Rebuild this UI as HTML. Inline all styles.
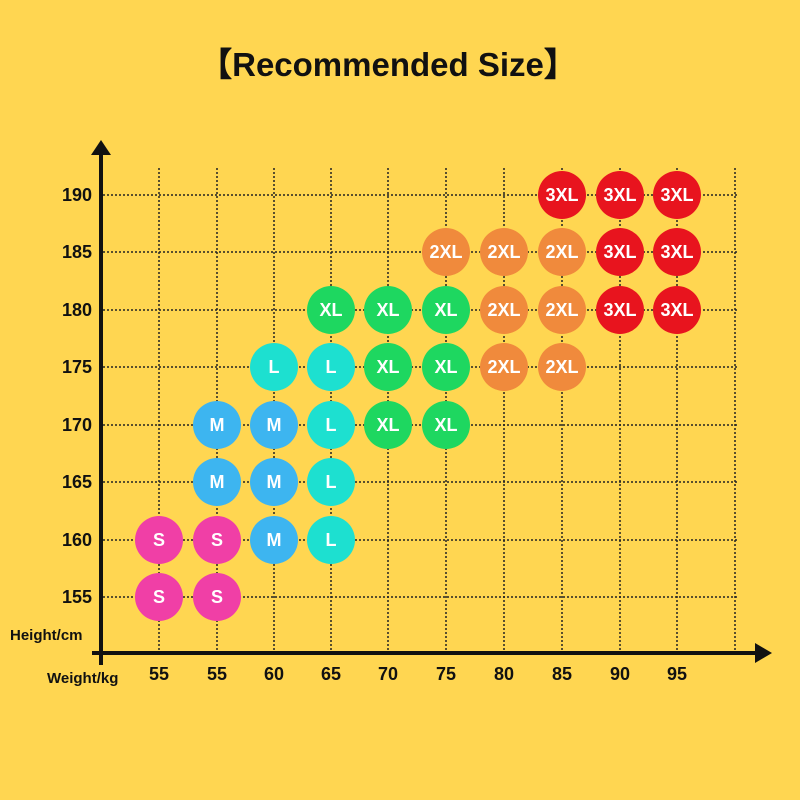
<!DOCTYPE html>
<html><head><style>
body{margin:0;background:#FFD651;}
svg{display:block}
text{font-family:"Liberation Sans",sans-serif;}
</style></head><body>
<svg width="800" height="800" viewBox="0 0 800 800">
<rect width="800" height="800" fill="#FFD651"/>
<text x="388" y="76" text-anchor="middle" font-size="33" font-weight="bold" fill="#111">【Recommended Size】</text>
<g stroke="#222" stroke-width="1.5" stroke-dasharray="2,2">
<line x1="159" y1="168" x2="159" y2="653"/><line x1="217" y1="168" x2="217" y2="653"/>
<line x1="274" y1="168" x2="274" y2="653"/><line x1="331" y1="168" x2="331" y2="653"/>
<line x1="388" y1="168" x2="388" y2="653"/><line x1="446" y1="168" x2="446" y2="653"/>
<line x1="504" y1="168" x2="504" y2="653"/><line x1="562" y1="168" x2="562" y2="653"/>
<line x1="620" y1="168" x2="620" y2="653"/><line x1="677" y1="168" x2="677" y2="653"/>
<line x1="735" y1="168" x2="735" y2="653"/>
<line x1="103" y1="195" x2="738" y2="195"/><line x1="103" y1="252" x2="738" y2="252"/>
<line x1="103" y1="310" x2="738" y2="310"/><line x1="103" y1="367" x2="738" y2="367"/>
<line x1="103" y1="425" x2="738" y2="425"/><line x1="103" y1="482" x2="738" y2="482"/>
<line x1="103" y1="540" x2="738" y2="540"/><line x1="103" y1="597" x2="738" y2="597"/>
</g>
<g stroke="#111" stroke-width="4">
<line x1="101" y1="152" x2="101" y2="665"/>
<line x1="92" y1="653" x2="760" y2="653"/>
</g>
<polygon points="101,140 91,155 111,155" fill="#111"/>
<polygon points="772,653 755,643 755,663" fill="#111"/>
<g font-size="18" font-weight="bold" fill="#111" text-anchor="end">
<text x="92" y="201">190</text><text x="92" y="258">185</text><text x="92" y="316">180</text>
<text x="92" y="373">175</text><text x="92" y="431">170</text><text x="92" y="488">165</text>
<text x="92" y="546">160</text><text x="92" y="603">155</text>
</g>
<text x="10" y="640" font-size="15" font-weight="bold" fill="#111">Height/cm</text>
<text x="47" y="683" font-size="15" font-weight="bold" fill="#111">Weight/kg</text>
<g font-size="18" font-weight="bold" fill="#111" text-anchor="middle">
<text x="159" y="680">55</text><text x="217" y="680">55</text><text x="274" y="680">60</text>
<text x="331" y="680">65</text><text x="388" y="680">70</text><text x="446" y="680">75</text>
<text x="504" y="680">80</text><text x="562" y="680">85</text><text x="620" y="680">90</text>
<text x="677" y="680">95</text>
</g>
<g font-size="18" font-weight="bold" fill="#fff" text-anchor="middle">
<circle cx="159" cy="540" r="24" fill="#F03FA6"/><text x="159" y="546">S</text>
<circle cx="217" cy="540" r="24" fill="#F03FA6"/><text x="217" y="546">S</text>
<circle cx="159" cy="597" r="24" fill="#F03FA6"/><text x="159" y="603">S</text>
<circle cx="217" cy="597" r="24" fill="#F03FA6"/><text x="217" y="603">S</text>
<circle cx="217" cy="425" r="24" fill="#3DB5F0"/><text x="217" y="431">M</text>
<circle cx="274" cy="425" r="24" fill="#3DB5F0"/><text x="274" y="431">M</text>
<circle cx="217" cy="482" r="24" fill="#3DB5F0"/><text x="217" y="488">M</text>
<circle cx="274" cy="482" r="24" fill="#3DB5F0"/><text x="274" y="488">M</text>
<circle cx="274" cy="540" r="24" fill="#3DB5F0"/><text x="274" y="546">M</text>
<circle cx="274" cy="367" r="24" fill="#1DE0D0"/><text x="274" y="373">L</text>
<circle cx="331" cy="367" r="24" fill="#1DE0D0"/><text x="331" y="373">L</text>
<circle cx="331" cy="425" r="24" fill="#1DE0D0"/><text x="331" y="431">L</text>
<circle cx="331" cy="482" r="24" fill="#1DE0D0"/><text x="331" y="488">L</text>
<circle cx="331" cy="540" r="24" fill="#1DE0D0"/><text x="331" y="546">L</text>
<circle cx="331" cy="310" r="24" fill="#1ED760"/><text x="331" y="316">XL</text>
<circle cx="388" cy="310" r="24" fill="#1ED760"/><text x="388" y="316">XL</text>
<circle cx="446" cy="310" r="24" fill="#1ED760"/><text x="446" y="316">XL</text>
<circle cx="388" cy="367" r="24" fill="#1ED760"/><text x="388" y="373">XL</text>
<circle cx="446" cy="367" r="24" fill="#1ED760"/><text x="446" y="373">XL</text>
<circle cx="388" cy="425" r="24" fill="#1ED760"/><text x="388" y="431">XL</text>
<circle cx="446" cy="425" r="24" fill="#1ED760"/><text x="446" y="431">XL</text>
<circle cx="446" cy="252" r="24" fill="#F08A3C"/><text x="446" y="258">2XL</text>
<circle cx="504" cy="252" r="24" fill="#F08A3C"/><text x="504" y="258">2XL</text>
<circle cx="562" cy="252" r="24" fill="#F08A3C"/><text x="562" y="258">2XL</text>
<circle cx="504" cy="310" r="24" fill="#F08A3C"/><text x="504" y="316">2XL</text>
<circle cx="562" cy="310" r="24" fill="#F08A3C"/><text x="562" y="316">2XL</text>
<circle cx="504" cy="367" r="24" fill="#F08A3C"/><text x="504" y="373">2XL</text>
<circle cx="562" cy="367" r="24" fill="#F08A3C"/><text x="562" y="373">2XL</text>
<circle cx="562" cy="195" r="24" fill="#E8141E"/><text x="562" y="201">3XL</text>
<circle cx="620" cy="195" r="24" fill="#E8141E"/><text x="620" y="201">3XL</text>
<circle cx="677" cy="195" r="24" fill="#E8141E"/><text x="677" y="201">3XL</text>
<circle cx="620" cy="252" r="24" fill="#E8141E"/><text x="620" y="258">3XL</text>
<circle cx="677" cy="252" r="24" fill="#E8141E"/><text x="677" y="258">3XL</text>
<circle cx="620" cy="310" r="24" fill="#E8141E"/><text x="620" y="316">3XL</text>
<circle cx="677" cy="310" r="24" fill="#E8141E"/><text x="677" y="316">3XL</text>
</g>
</svg>
</body></html>
